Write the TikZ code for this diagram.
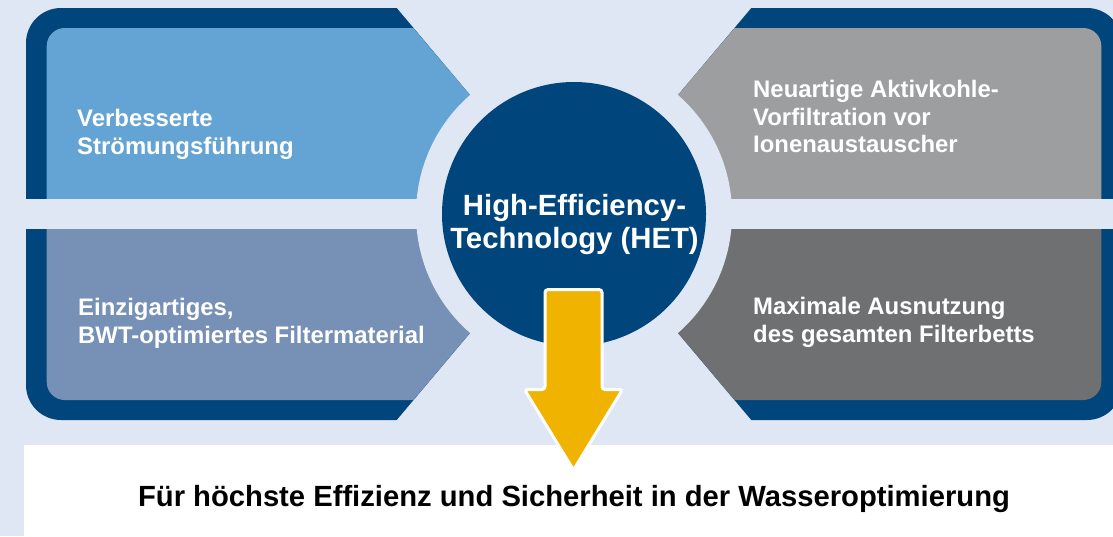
\documentclass[tikz,border=0pt]{standalone}
\usepackage{fontspec}
\setmainfont{Liberation Sans}
\definecolor{bgblue}{HTML}{DEE7F3}
\definecolor{navy}{HTML}{00457B}
\definecolor{ulfill}{HTML}{63A4D4}
\definecolor{llfill}{HTML}{7790B5}
\definecolor{urfill}{HTML}{9D9EA0}
\definecolor{lrfill}{HTML}{6F7072}
\definecolor{arrowyellow}{HTML}{F0B400}
\tikzset{
  paneltext/.style={text=white, font=\bfseries\fontsize{23.9}{27.7}\selectfont, align=left, inner sep=0pt, anchor=base west},
  hettext/.style={text=white, font=\bfseries\fontsize{29.3}{33}\selectfont, align=center, inner sep=0pt, anchor=base},
  claimtext/.style={text=black, font=\bfseries\fontsize{29.2}{33}\selectfont, inner sep=0pt, anchor=base},
  hetdisk/.style={circle, fill=navy, minimum size=264pt, inner sep=0pt},
  bigarrow/.style={fill=arrowyellow, draw=white, line width=3pt, rounded corners=3pt}
}
\begin{document}
\begin{tikzpicture}[x=1pt,y=-1pt]
\useasboundingbox (0,0) rectangle (1113,536);
\clip (0,0) rectangle (1113,536);
% background
\fill[bgblue] (0,0) rectangle (1113,536);
% upper left panel
\fill[navy] (26,214) -- (26,43) arc[start angle=180,end angle=270,radius=35] -- (396.7,8) -- (470,95) -- (574,214) -- cycle;
\fill[ulfill] (46.7,214) -- (46.7,46) arc[start angle=180,end angle=270,radius=18] -- (413.3,28) -- (470,95) -- (574,214) -- cycle;
% lower left panel
\fill[navy] (26,214) -- (26,385) arc[start angle=180,end angle=90,radius=35] -- (396.7,420) -- (470,333) -- (574,214) -- cycle;
\fill[llfill] (46.7,214) -- (46.7,382) arc[start angle=180,end angle=90,radius=18] -- (413.3,400) -- (470,333) -- (574,214) -- cycle;
% upper right panel
\fill[navy] (1122,214) -- (1122,43) arc[start angle=0,end angle=-90,radius=35] -- (751.3,8) -- (678,95) -- (574,214) -- cycle;
\fill[urfill] (1101.3,214) -- (1101.3,46) arc[start angle=0,end angle=-90,radius=18] -- (734.7,28) -- (678,95) -- (574,214) -- cycle;
% lower right panel
\fill[navy] (1122,214) -- (1122,385) arc[start angle=0,end angle=90,radius=35] -- (751.3,420) -- (678,333) -- (574,214) -- cycle;
\fill[lrfill] (1101.3,214) -- (1101.3,382) arc[start angle=0,end angle=90,radius=18] -- (734.7,400) -- (678,333) -- (574,214) -- cycle;
% horizontal gap
\fill[bgblue] (0,199) rectangle (1113,229);
% ring around the centre
\fill[bgblue] (574,214) circle[radius=158];
% centre disk
\node[hetdisk] (disk) at (574,214) {};
% bottom white band
\fill[white] (24,445) rectangle (1113,536);
% yellow arrow
\draw[bigarrow] (545,289.5) -- (602,289.5) -- (602,389.5) -- (622.5,389.5) -- (573.5,470) -- (524.5,389.5) -- (545,389.5) -- cycle;
% texts (anchored at the baseline of the last line)
\node[paneltext] (ul) at (77,154.5) {Verbesserte\\Strömungsführung};
\node[paneltext] (ll) at (78,343.3) {Einzigartiges,\\BWT-optimiertes Filtermaterial};
\node[paneltext] (ur) at (753,152.7) {Neuartige Aktivkohle-\\Vorfiltration vor\\Ionenaustauscher};
\node[paneltext] (lr) at (753,342) {Maximale Ausnutzung\\des gesamten Filterbetts};
\node[hettext] (het) at (574.5,248) {High-Efficiency-\\Technology (HET)};
\node[claimtext] (claim) at (574,506.7) {Für höchste Effizienz und Sicherheit in der Wasseroptimierung};
\end{tikzpicture}
\end{document}
